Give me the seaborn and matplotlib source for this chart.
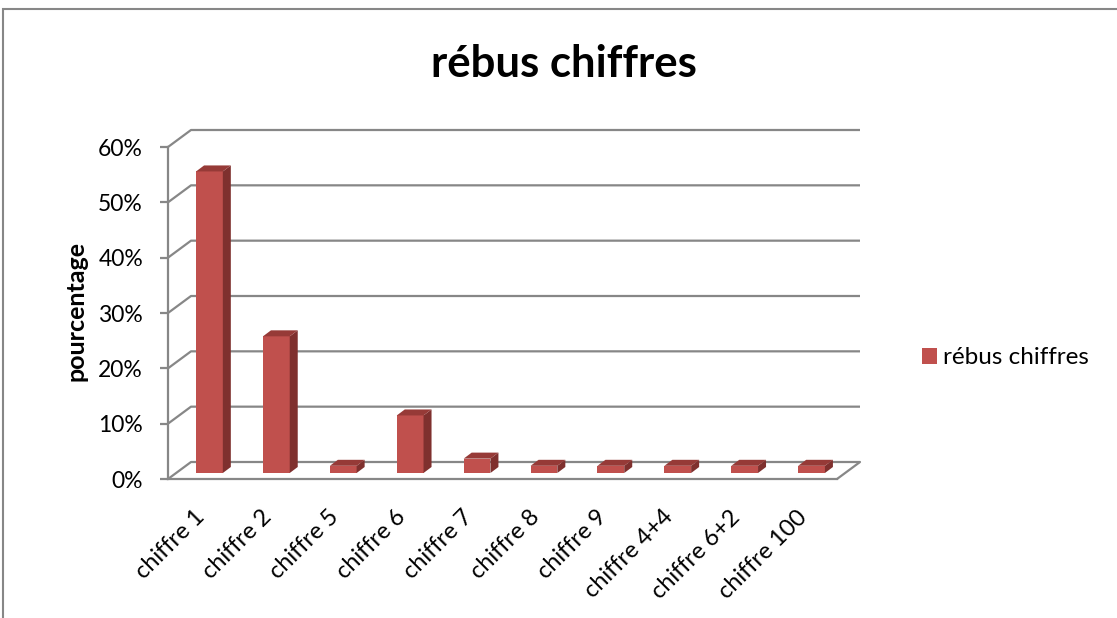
import matplotlib
matplotlib.use('Agg')
import matplotlib.pyplot as plt
import seaborn as sns
from matplotlib.patches import Polygon, Rectangle, Patch

# Data (share of answers)
categories = ['chiffre 1', 'chiffre 2', 'chiffre 5', 'chiffre 6', 'chiffre 7',
              'chiffre 8', 'chiffre 9', 'chiffre 4+4', 'chiffre 6+2', 'chiffre 100']
values = [0.545, 0.247, 0.013, 0.104, 0.026, 0.013, 0.013, 0.013, 0.013, 0.013]
y_ticks = [0, 0.1, 0.2, 0.3, 0.4, 0.5, 0.6]
y_tick_labels = ['0%', '10%', '20%', '30%', '40%', '50%', '60%']
series_name = 'rébus chiffres'

sns.set_style('white')
plt.rcParams['font.family'] = ['Lato', 'DejaVu Sans']
plt.rcParams['text.color'] = 'black'

# Colours (Excel-like 3D red bars)
front_col = '#C0504D'
side_col = '#7F302E'
top_col = '#963A37'
grid_col = '#878787'

W, H = 1117, 618
fig = plt.figure(figsize=(W / 100, H / 100), dpi=100)

# front plane of the 3D box, in pixels
ax_l, ax_r, ax_b, ax_t = 168, 837, 479, 147
ax = fig.add_axes([ax_l / W, 1 - ax_b / H, (ax_r - ax_l) / W, (ax_b - ax_t) / H])
ymax = 0.6
px_x = len(categories) / (ax_r - ax_l)
px_y = ymax / (ax_b - ax_t)

back_dx, back_dy = 23 * px_x, 17 * px_y   # depth of the floor
off_x, off_y = 8 * px_x, 6 * px_y         # bars sit a bit behind the front plane
dep_x, dep_y = 8 * px_x, 6 * px_y         # depth of each bar

sns.barplot(x=categories, y=values, color=front_col, saturation=1, width=0.4,
            linewidth=0, ax=ax, zorder=3)
ax.set_xlim(-0.5, len(categories) - 0.5)
ax.set_ylim(0, ymax)

# turn flat bars into boxes
for p in list(ax.patches):
    x0 = p.get_x() + off_x
    w = p.get_width()
    h = p.get_height()
    p.set_x(x0)
    p.set_y(off_y)
    x1 = x0 + w
    side = Polygon([(x1, off_y), (x1 + dep_x, off_y + dep_y),
                    (x1 + dep_x, off_y + h + dep_y), (x1, off_y + h)],
                   closed=True, facecolor=side_col, edgecolor='none', zorder=3)
    top = Polygon([(x0, off_y + h), (x1, off_y + h),
                   (x1 + dep_x, off_y + h + dep_y), (x0 + dep_x, off_y + h + dep_y)],
                  closed=True, facecolor=top_col, edgecolor='none', zorder=3)
    ax.add_patch(side)
    ax.add_patch(top)

# walls and floor
xl, xr = -0.5, len(categories) - 0.5
for yv in y_ticks:
    ax.plot([xl, xl + back_dx, xr + back_dx], [yv, yv + back_dy, yv + back_dy],
            color=grid_col, lw=1.6, clip_on=False, zorder=1, solid_capstyle='butt')
ax.plot([xr, xr + back_dx], [0, back_dy], color=grid_col, lw=1.6, clip_on=False, zorder=1)

for s in ['top', 'right']:
    ax.spines[s].set_visible(False)
for s in ['left', 'bottom']:
    ax.spines[s].set_color(grid_col)
    ax.spines[s].set_linewidth(1.6)

ax.set_yticks(y_ticks)
ax.set_yticklabels(y_tick_labels)
ax.tick_params(axis='y', length=6, width=1.6, color=grid_col, pad=12,
               labelsize=16.5, labelcolor='black', left=True)
ax.tick_params(axis='x', length=0, pad=25, labelsize=17, labelcolor='black')
plt.setp(ax.get_xticklabels(), rotation=45, ha='right', va='center', rotation_mode='anchor')
ax.set_xlabel('')
ax.set_ylabel('')

fig.text(76 / W, 1 - 311 / H, 'pourcentage', rotation=90, ha='center', va='center',
         fontsize=18, fontweight='bold', color='black')
fig.text(564 / W, 1 - 77 / H, series_name, ha='center', va='baseline',
         fontsize=31.5, fontweight='bold', color='black')

handle = Patch(facecolor=front_col, edgecolor='none', label=series_name)
fig.legend(handles=[handle], loc='center left', bbox_to_anchor=(922 / W, 1 - 358 / H),
           frameon=False, fontsize=17.5, handlelength=0.6, handleheight=0.6,
           handletextpad=0.28, borderaxespad=0, borderpad=0, labelcolor='black')

# outer chart frame (cut by the image edges)
fig.add_artist(Rectangle((3 / W, -0.1), 1.2, 1.1 - 9 / H, transform=fig.transFigure,
                         fill=False, edgecolor=grid_col, linewidth=1.5))

fig.savefig('out.png', dpi=100)
